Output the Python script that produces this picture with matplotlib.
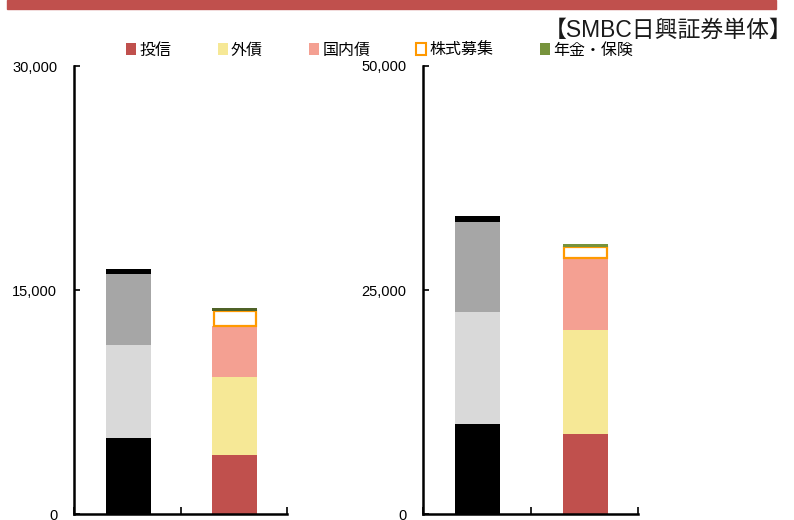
import matplotlib
matplotlib.use("Agg")
import matplotlib.pyplot as plt
from matplotlib.patches import Patch, Rectangle

plt.rcParams['font.family'] = ['Liberation Sans', 'Noto Sans CJK JP', 'DejaVu Sans']

# left panel (0 - 30,000)
left_gray_vals = [5080, 6260, 4700, 360]      # black, light gray, gray, black top
left_color_vals = [3960, 5210, 3400, 1000, 250]  # 投信, 外債, 国内債, 株式募集, 年金・保険
left_ticks = [0, 15000, 30000]
left_ticklabels = ['0', '15,000', '30,000']

# right panel (0 - 50,000)
right_gray_vals = [10070, 12420, 10070, 740]
right_color_vals = [8950, 11630, 7940, 1230, 410]
right_ticks = [0, 25000, 50000]
right_ticklabels = ['0', '25,000', '50,000']

series_names = ['投信', '外債', '国内債', '株式募集', '年金・保険']
series_colors = ['#C0504D', '#F6E896', '#F4A092', '#FFFFFF', '#77933C']
gray_colors = ['#000000', '#D9D9D9', '#A6A6A6', '#000000']
orange = '#FF9900'

fig = plt.figure(figsize=(7.94, 5.2), dpi=100)

# red band at the top
fig.patches.append(Rectangle((7/794, 1 - 9/520), 769/794, 9/520,
                             transform=fig.transFigure, color='#C0504D', zorder=0))

fig.text(793/794, 1 - 30/520, '【SMBC日興証券単体】', ha='right', va='center',
         fontsize=16.5, color='#1a1a1a')


def draw_panel(ax, gray_vals, color_vals, ticks, ticklabels, top_green):
    w = 0.42
    bottom = 0
    for v, c in zip(gray_vals, gray_colors):
        ax.bar(0.51, v, w, bottom=bottom, color=c, linewidth=0)
        bottom += v
    bottom = 0
    cols = list(series_colors)
    cols[4] = top_green
    for i, (v, c) in enumerate(zip(color_vals, cols)):
        if i == 3:
            ax.bar(1.51, v, w - 0.02, bottom=bottom, color='white',
                   edgecolor=orange, linewidth=1.6)
        else:
            ax.bar(1.51, v, w, bottom=bottom, color=c, linewidth=0)
        bottom += v
    ax.set_xlim(0, 2)
    ax.set_ylim(ticks[0], ticks[-1])
    ax.set_yticks(ticks)
    ax.set_yticklabels(ticklabels)
    ax.set_xticks([0, 1, 2])
    ax.set_xticklabels([])
    ax.tick_params(axis='y', direction='in', length=4, width=1.2, pad=12,
                   labelsize=10.5)
    ax.tick_params(axis='x', direction='in', length=5, width=1.2)
    for s in ['top', 'right']:
        ax.spines[s].set_visible(False)
    for s in ['left', 'bottom']:
        ax.spines[s].set_linewidth(1.8)


ax1 = fig.add_axes([74/794, 6/520, 213/794, 448/520])
draw_panel(ax1, left_gray_vals, left_color_vals, left_ticks, left_ticklabels, '#4F6228')

ax2 = fig.add_axes([423/794, 6/520, 215/794, 448/520])
draw_panel(ax2, right_gray_vals, right_color_vals, right_ticks, right_ticklabels, '#77933C')

handles = []
for n, c in zip(series_names, series_colors):
    if n == '株式募集':
        handles.append(Patch(facecolor='white', edgecolor=orange, linewidth=1.5, label=n))
    else:
        handles.append(Patch(facecolor=c, edgecolor='none', label=n))
fig.legend(handles=handles, ncol=5, loc='center left',
           bbox_to_anchor=(123/794, 1 - 50/520), frameon=False, fontsize=11.5,
           handlelength=0.62, handleheight=0.7, handletextpad=0.2,
           columnspacing=2.9, borderaxespad=0, borderpad=0.2)

fig.savefig('out.png', dpi=100)
